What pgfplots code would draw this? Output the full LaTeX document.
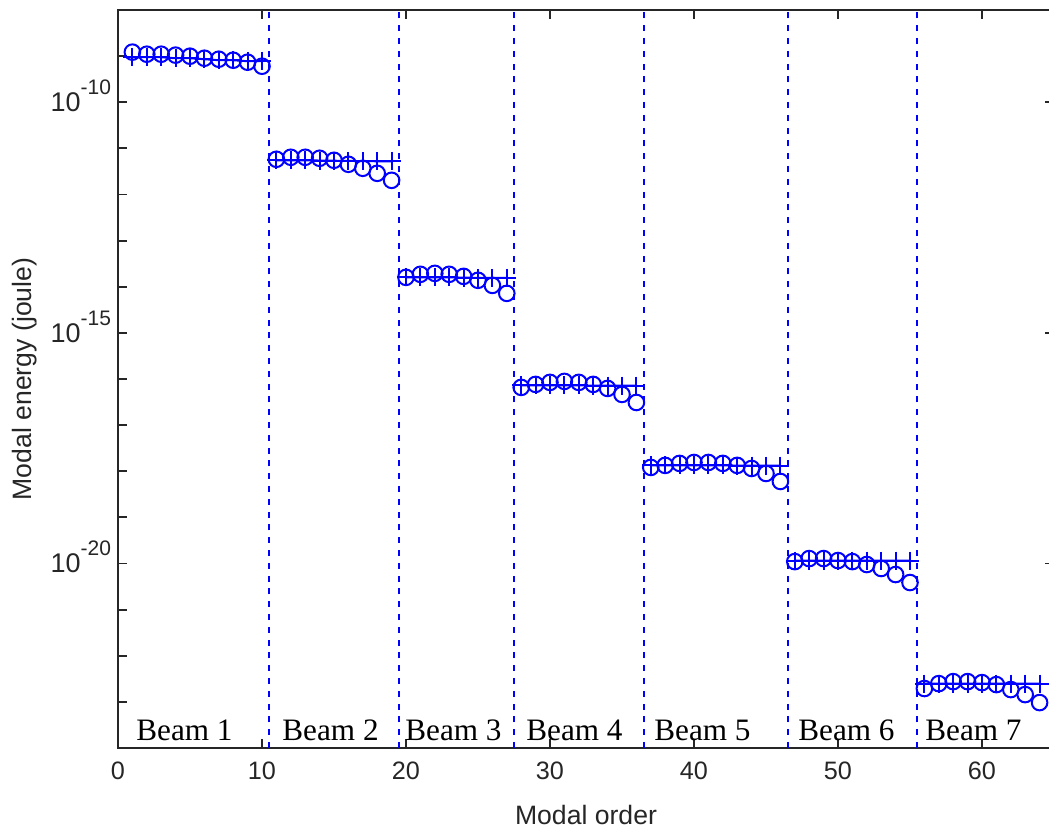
\documentclass[border=0pt]{standalone}
\usepackage{fontspec}
\setmainfont{Liberation Sans}
\newfontfamily\timesfont{Liberation Serif}
\usepackage{pgfplots}
\pgfplotsset{compat=1.18}
\definecolor{mblue}{RGB}{0,0,255}

\begin{document}
\begin{tikzpicture}
\useasboundingbox (0,0) rectangle (524.5pt,414.5pt);
\begin{axis}[
  at={(59pt,40.5pt)}, anchor=south west,
  scale only axis, width=468pt, height=369pt,
  xmin=0, xmax=65, ymode=log, ymin=1e-24, ymax=1e-8,
  axis line style={line width=0.9pt, color=black!85},
  every tick/.style={line width=0.9pt, color=black!85},
  major tick length=4.5pt,
  tick align=inside,
  xtick={0,10,...,60}, xtick pos=both,
  ytick={1e-24,1e-23,1e-22,1e-21,1e-20,1e-19,1e-18,1e-17,1e-16,1e-15,1e-14,1e-13,1e-12,1e-11,1e-10,1e-9,1e-8},
  ytick pos=left,
  yminorticks=false,
  yticklabels={,,,,10\raisebox{8.5pt}{\smash{\fontsize{10.5}{11}\selectfont -20}},,,,,
               10\raisebox{8.5pt}{\smash{\fontsize{10.5}{11}\selectfont -15}},,,,,
               10\raisebox{8.5pt}{\smash{\fontsize{10.5}{11}\selectfont -10}},,},
  /pgf/number format/assume math mode=true,
  xticklabel style={font=\fontsize{12.6}{14}\selectfont, yshift=-3.3pt, text=black!85},
  yticklabel style={font=\fontsize{13.5}{15}\selectfont, text=black!85},
  xlabel={Modal order},
  ylabel={Modal energy (joule)},
  xlabel style={font=\fontsize{13.3}{15}\selectfont, text=black!85, inner sep=0pt, at={(axis description cs:0.5,-0.104)}, anchor=base},
  ylabel style={font=\fontsize{13.3}{15}\selectfont, text=black!85, at={(axis description cs:-0.10,0.5)}, anchor=center},
  clip=true,
]
% right-side ticks at labelled decades only
\draw[line width=0.9pt, color=black!85] (rel axis cs:1,0.875) -- ([xshift=-4.5pt]rel axis cs:1,0.875);
\draw[line width=0.9pt, color=black!85] (rel axis cs:1,0.5625) -- ([xshift=-4.5pt]rel axis cs:1,0.5625);
\draw[line width=0.9pt, color=black!85] (rel axis cs:1,0.25) -- ([xshift=-4.5pt]rel axis cs:1,0.25);

% dashed separators
\pgfplotsset{sep/.style={color=mblue, line width=1pt, dash pattern=on 3pt off 3.4pt, mark=none, forget plot}}
\addplot[sep] coordinates {(10.5,1e-24) (10.5,1e-8)};
\addplot[sep] coordinates {(19.5,1e-24) (19.5,1e-8)};
\addplot[sep] coordinates {(27.5,1e-24) (27.5,1e-8)};
\addplot[sep] coordinates {(36.5,1e-24) (36.5,1e-8)};
\addplot[sep] coordinates {(46.5,1e-24) (46.5,1e-8)};
\addplot[sep] coordinates {(55.5,1e-24) (55.5,1e-8)};

\pgfplotsset{
  circ/.style={color=mblue, only marks, mark=o, mark size=3.9pt, line width=1pt, forget plot},
  plusl/.style={color=mblue, mark=+, mark size=4.5pt, line width=1pt, forget plot}
}
% Beam 1
\addplot[plusl] coordinates {(1,9.46e-10) (2,9.46e-10) (3,9.46e-10) (4,9.0e-10) (5,9.0e-10) (6,8.57e-10) (7,8.15e-10) (8,8.15e-10) (9,7.75e-10) (10,7.75e-10)};
\addplot[circ] coordinates {(1,1.22e-9) (2,1.10e-9) (3,1.10e-9) (4,1.05e-9) (5,9.96e-10) (6,9.0e-10) (7,8.57e-10) (8,8.15e-10) (9,7.38e-10) (10,6.04e-10)};
% Beam 2
\addplot[plusl] coordinates {(11,5.52e-12) (12,5.52e-12) (13,5.52e-12) (14,5.45e-12) (15,5.4e-12) (16,5.35e-12) (17,5.3e-12) (18,5.25e-12) (19,5.25e-12)};
\addplot[circ] coordinates {(11,5.80e-12) (12,6.41e-12) (13,6.41e-12) (14,6.10e-12) (15,5.52e-12) (16,4.52e-12) (17,3.70e-12) (18,2.88e-12) (19,2.03e-12)};
% Beam 3
\addplot[plusl] coordinates {(20,1.60e-14) (21,1.60e-14) (22,1.60e-14) (23,1.60e-14) (24,1.58e-14) (25,1.56e-14) (26,1.55e-14) (27,1.55e-14)};
\addplot[circ] coordinates {(20,1.60e-14) (21,1.86e-14) (22,1.95e-14) (23,1.86e-14) (24,1.68e-14) (25,1.38e-14) (26,1.07e-14) (27,7.19e-15)};
% Beam 4
\addplot[plusl] coordinates {(28,7.26e-17) (29,7.26e-17) (30,7.26e-17) (31,7.26e-17) (32,7.26e-17) (33,7.2e-17) (34,7.2e-17) (35,7.2e-17) (36,7.2e-17)};
\addplot[circ] coordinates {(28,6.58e-17) (29,7.64e-17) (30,8.44e-17) (31,8.87e-17) (32,8.44e-17) (33,7.64e-17) (34,6.25e-17) (35,4.63e-17) (36,3.10e-17)};
% Beam 5
\addplot[plusl] coordinates {(37,1.34e-18) (38,1.34e-18) (39,1.34e-18) (40,1.34e-18) (41,1.34e-18) (42,1.34e-18) (43,1.33e-18) (44,1.33e-18) (45,1.33e-18) (46,1.33e-18)};
\addplot[circ] coordinates {(37,1.21e-18) (38,1.34e-18) (39,1.48e-18) (40,1.55e-18) (41,1.55e-18) (42,1.48e-18) (43,1.34e-18) (44,1.15e-18) (45,8.95e-19) (46,6.01e-19)};
% Beam 6
\addplot[plusl] coordinates {(47,1.16e-20) (48,1.16e-20) (49,1.16e-20) (50,1.16e-20) (51,1.16e-20) (52,1.15e-20) (53,1.15e-20) (54,1.15e-20) (55,1.15e-20)};
\addplot[circ] coordinates {(47,1.10e-20) (48,1.28e-20) (49,1.28e-20) (50,1.16e-20) (51,1.10e-20) (52,9.51e-21) (53,7.80e-21) (54,5.77e-21) (55,3.87e-21)};
% Beam 7
\addplot[plusl] coordinates {(56,2.49e-23) (57,2.49e-23) (58,2.49e-23) (59,2.49e-23) (60,2.49e-23) (61,2.48e-23) (62,2.48e-23) (63,2.48e-23) (64,2.48e-23)};
\addplot[circ] coordinates {(56,1.95e-23) (57,2.49e-23) (58,2.75e-23) (59,2.75e-23) (60,2.62e-23) (61,2.37e-23) (62,1.85e-23) (63,1.44e-23) (64,9.66e-24)};

% beam labels
\node[anchor=base west, inner sep=0pt, font=\timesfont\fontsize{15.6}{18}\selectfont] at (axis cs:1.25,1.49e-24) {Beam 1};
\node[anchor=base west, inner sep=0pt, font=\timesfont\fontsize{15.6}{18}\selectfont] at (axis cs:11.39,1.49e-24) {Beam 2};
\node[anchor=base west, inner sep=0pt, font=\timesfont\fontsize{15.6}{18}\selectfont] at (axis cs:19.93,1.49e-24) {Beam 3};
\node[anchor=base west, inner sep=0pt, font=\timesfont\fontsize{15.6}{18}\selectfont] at (axis cs:28.33,1.49e-24) {Beam 4};
\node[anchor=base west, inner sep=0pt, font=\timesfont\fontsize{15.6}{18}\selectfont] at (axis cs:37.22,1.49e-24) {Beam 5};
\node[anchor=base west, inner sep=0pt, font=\timesfont\fontsize{15.6}{18}\selectfont] at (axis cs:47.22,1.49e-24) {Beam 6};
\node[anchor=base west, inner sep=0pt, font=\timesfont\fontsize{15.6}{18}\selectfont] at (axis cs:56.04,1.49e-24) {Beam 7};
\end{axis}
\end{tikzpicture}
\end{document}
